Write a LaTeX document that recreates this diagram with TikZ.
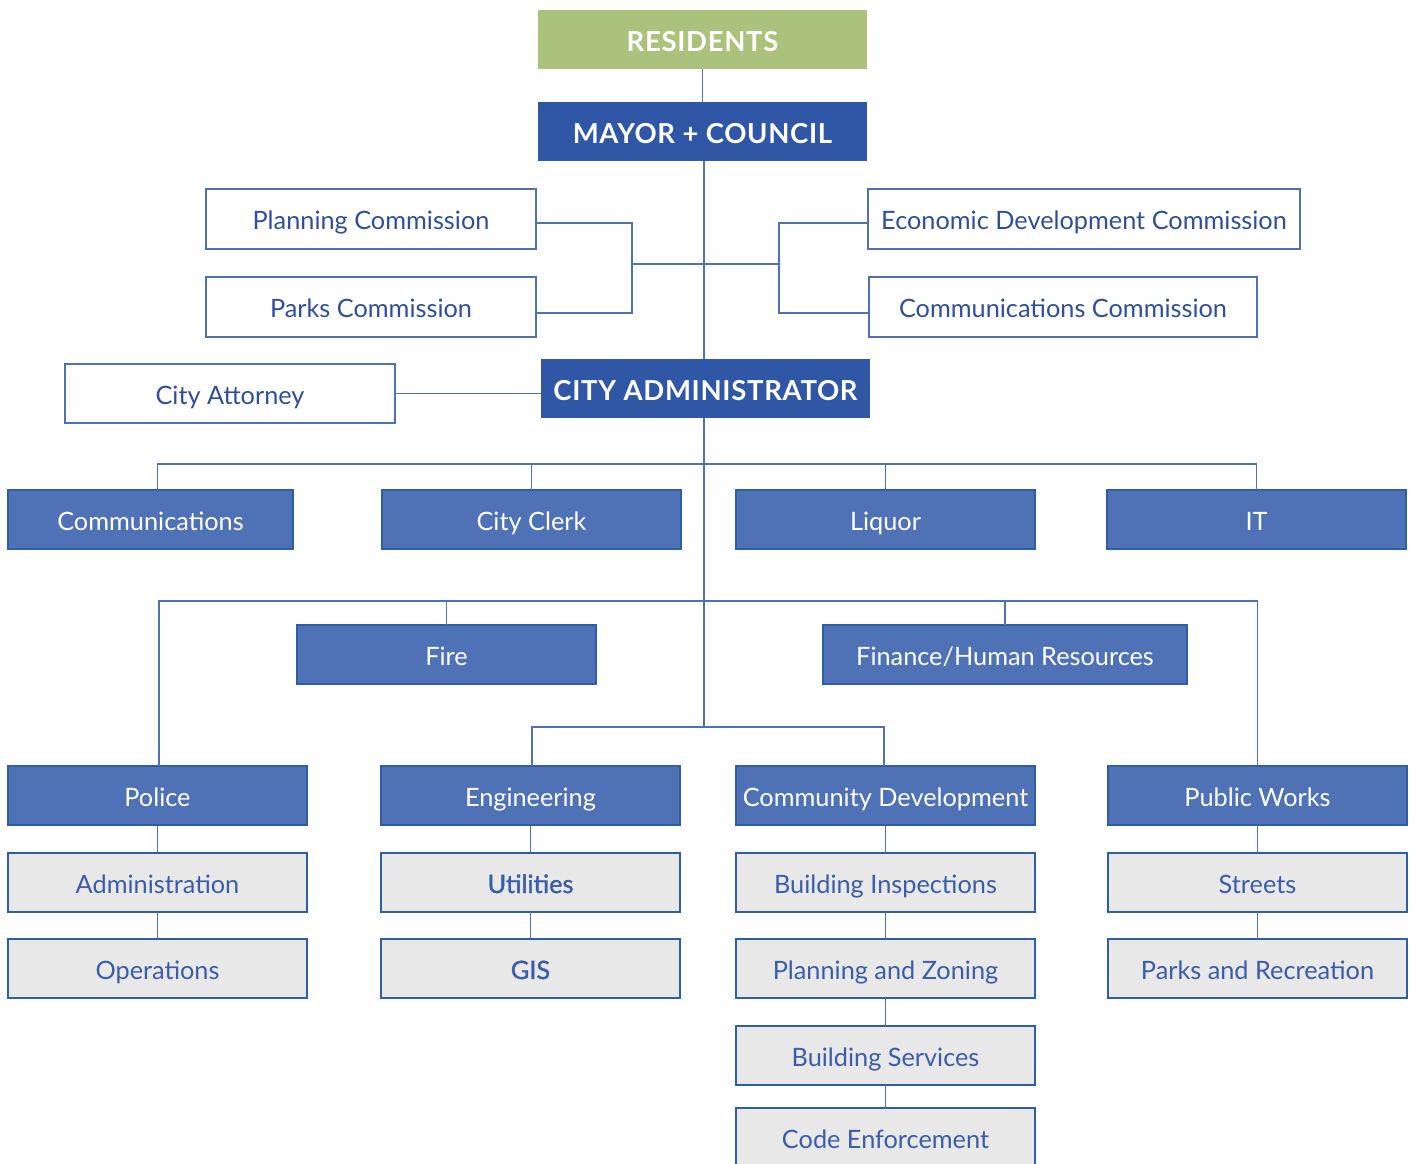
\documentclass[tikz,border=0pt]{standalone}
\usepackage{fontspec}
\setmainfont{Lato}
\newfontfamily\medfont[FakeBold=1.2]{Lato}
\newfontfamily\headfont[LetterSpace=2.5]{Lato}
\definecolor{topgreen}{HTML}{ABC27C}
\definecolor{darkblue}{HTML}{2F57A5}
\definecolor{midblue}{HTML}{4F72B7}
\definecolor{edgeblue}{HTML}{2E5EA8}
\definecolor{lineblue}{HTML}{4E70B8}
\definecolor{textblue}{HTML}{2F4F9E}
\definecolor{subtext}{HTML}{3A5DAA}
\definecolor{subgray}{HTML}{E8E8E8}
\begin{document}
\begin{tikzpicture}[x=1pt,y=-1pt,
  base/.style={rectangle,inner sep=0pt,outer sep=0pt,align=center,
    text height=21pt,text depth=0pt,
    font=\fontsize{25.3}{28}\selectfont},
  headbox/.style={base,fill=darkblue,text=white,text height=24pt,
    font=\fontsize{27.5}{30}\selectfont\headfont\bfseries,minimum width=329pt,minimum height=59pt},
  greenbox/.style={headbox,fill=topgreen},
  commbox/.style={base,draw=lineblue,line width=1.2pt,fill=white,text=textblue,minimum height=60pt},
  deptbox/.style={base,draw=edgeblue,line width=1.2pt,fill=midblue,text=white,
    minimum width=299pt,minimum height=59pt},
  subbox/.style={base,draw=edgeblue,line width=1.2pt,fill=subgray,text=subtext,
    minimum width=299pt,minimum height=59pt},
  link/.style={draw=lineblue,line width=1.4pt}]
\useasboundingbox (0,0) rectangle (1414,1163);
\clip (0,0) rectangle (1414,1163);

% governing level
\node[greenbox] (res) at (702.5,39.5) {RESIDENTS};
\node[headbox] (mayor) at (702.5,131.5) {MAYOR + COUNCIL};

% commissions
\node[commbox,minimum width=330pt] (pc) at (371,219) {Planning Commission};
\node[commbox,minimum width=330pt] (pk) at (371,307) {Parks Commission};
\node[commbox,minimum width=432pt] (ed) at (1084,219) {Economic Development Commission};
\node[commbox,minimum width=388pt] (cc) at (1063,307) {Communications Commission};

% administration
\node[commbox,minimum width=330pt,minimum height=59pt] (att) at (230,393.5) {City Attorney};
\node[headbox] (admin) at (705.5,388.5) {CITY ADMINISTRATOR};

% first row of departments
\node[deptbox,minimum width=285pt] (comm) at (150.5,519.5) {Communications};
\node[deptbox] (clerk) at (531.5,519.5) {City Clerk};
\node[deptbox] (liq) at (885.5,519.5) {Liquor};
\node[deptbox] (it) at (1256.5,519.5) {IT};

% second row
\node[deptbox] (fire) at (446.5,654.5) {Fire};
\node[deptbox,minimum width=364pt] (fin) at (1005,654.5) {Finance/Human Resources};

% third row
\node[deptbox] (police) at (157.5,795.5) {Police};
\node[deptbox] (eng) at (530.5,795.5) {Engineering};
\node[deptbox] (cd) at (885.5,795.5) {Community Development};
\node[deptbox] (pw) at (1257.5,795.5) {Public Works};

% divisions
\node[subbox] (padm) at (157.5,882.5) {Administration};
\node[subbox] (pops) at (157.5,968.5) {Operations};
\node[subbox] (util) at (530.5,882.5) {\medfont Utilities};
\node[subbox] (gis) at (530.5,968.5) {\medfont GIS};
\node[subbox] (binsp) at (885.5,882.5) {Building Inspections};
\node[subbox] (pz) at (885.5,968.5) {Planning and Zoning};
\node[subbox] (bserv) at (885.5,1055.5) {Building Services};
\node[subbox] (code) at (885.5,1137.5) {Code Enforcement};
\node[subbox] (streets) at (1257.5,882.5) {Streets};
\node[subbox] (parks) at (1257.5,968.5) {Parks and Recreation};

% connector junctions
\coordinate (tk) at (704,727);
\coordinate (bl) at (632,264);
\coordinate (br) at (779,264);
\coordinate (b1) at (704,464);
\coordinate (b2) at (704,601);

% trunk
\draw[link] (res) -- (mayor);
\draw[link] (mayor.south -| tk) -- (admin.north -| tk);
\draw[link] (admin.south -| tk) -- (tk);

% commission brackets
\draw[link] ([yshift=-4pt]pc.east) -| (bl) |- ([yshift=-6pt]pk.east);
\draw[link] ([yshift=-4pt]ed.west) -| (br) |- ([yshift=-6pt]cc.west);
\draw[link] (bl) -- (br);

% city attorney
\draw[link] (att.east) -- (att.east -| admin.west);

% first row bus
\draw[link] ([xshift=7pt]comm.north) |- (it.north |- b1) -- (it.north);
\draw[link] (clerk.north) -- (clerk.north |- b1);
\draw[link] (liq.north) -- (liq.north |- b1);

% second row bus
\draw[link] ([xshift=1.5pt]police.north) |- (pw.north |- b2) -- (pw.north);
\draw[link] (fire.north) -- (fire.north |- b2);
\draw[link] (fin.north) -- (fin.north |- b2);

% third row bus
\draw[link] ([xshift=1.5pt]eng.north) |- ([xshift=-1.5pt]cd.north |- tk) -- ([xshift=-1.5pt]cd.north);

% division chains
\draw[link] (police.south) -- (padm.north);
\draw[link] (padm.south) -- (pops.north);
\draw[link] (eng.south) -- (util.north);
\draw[link] (util.south) -- (gis.north);
\draw[link] (cd.south) -- (binsp.north);
\draw[link] (binsp.south) -- (pz.north);
\draw[link] (pz.south) -- (bserv.north);
\draw[link] (bserv.south) -- (code.north);
\draw[link] (pw.south) -- (streets.north);
\draw[link] (streets.south) -- (parks.north);
\end{tikzpicture}
\end{document}
